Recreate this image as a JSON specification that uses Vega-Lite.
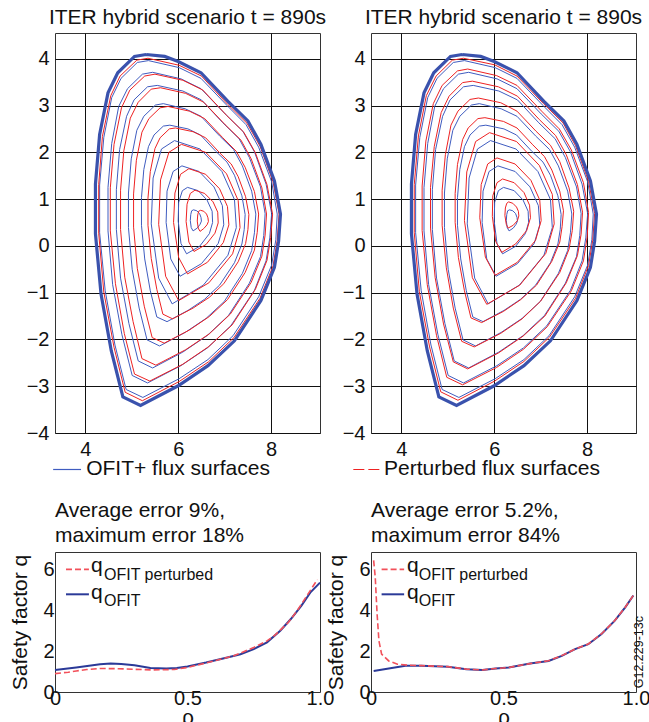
{
"$schema": "https://vega.github.io/schema/vega-lite/v6.json",
"background": "white",
"padding": {"left": 9, "top": 6, "right": 0, "bottom": 0},
"config": {
 "font": "Liberation Sans",
 "view": {"stroke": "#333", "strokeWidth": 1},
 "axis": {"labelFont": "Liberation Sans", "labelFontSize": 20, "labelColor": "#111", "titleFont": "Liberation Sans", "titleFontSize": 21, "titleFontWeight": "normal", "titleColor": "#111", "domain": false, "ticks": false, "gridColor": "#111", "gridOpacity": 1, "gridWidth": 1, "labelFlush": false, "labelOverlap": false, "labelBound": false},
 "title": {"font": "Liberation Sans", "fontSize": 21, "fontWeight": "normal", "color": "#111"},
 "text": {"font": "Liberation Sans", "color": "#111"}
},
"datasets": {
"edge": [
{"x":5.31,"y":4.09},{"x":5.71,"y":4.05},{"x":6.0,"y":3.94},{"x":6.49,"y":3.70},{"x":7.07,"y":3.09},{"x":7.5,"y":2.67},{"x":7.78,"y":2.17},{"x":8.07,"y":1.39},{"x":8.2,"y":0.68},{"x":8.16,"y":0.1},{"x":8.07,"y":-0.46},{"x":7.78,"y":-1.17},{"x":7.21,"y":-2.03},{"x":6.64,"y":-2.56},{"x":6.0,"y":-2.99},{"x":5.19,"y":-3.41},{"x":4.81,"y":-3.23},{"x":4.56,"y":-2.24},{"x":4.34,"y":-1.03},{"x":4.22,"y":0.26},{"x":4.22,"y":1.32},{"x":4.31,"y":2.38},{"x":4.49,"y":3.27},{"x":4.70,"y":3.70},{"x":5.06,"y":4.05},{"x":5.31,"y":4.09}
],
"blue": [
{"k":1,"x":5.36,"y":3.96},{"k":1,"x":6.02,"y":3.81},{"k":1,"x":6.49,"y":3.58},{"k":1,"x":7.05,"y":3.00},{"k":1,"x":7.46,"y":2.59},{"k":1,"x":7.73,"y":2.11},{"k":1,"x":8.01,"y":1.37},{"k":1,"x":8.13,"y":0.68},{"k":1,"x":8.10,"y":0.13},{"k":1,"x":8.01,"y":-0.41},{"k":1,"x":7.73,"y":-1.09},{"k":1,"x":7.18,"y":-1.92},{"k":1,"x":6.64,"y":-2.43},{"k":1,"x":6.02,"y":-2.84},{"k":1,"x":5.24,"y":-3.24},{"k":1,"x":4.88,"y":-3.07},{"k":1,"x":4.64,"y":-2.12},{"k":1,"x":4.43,"y":-0.96},{"k":1,"x":4.31,"y":0.28},{"k":1,"x":4.31,"y":1.30},{"k":1,"x":4.40,"y":2.32},{"k":1,"x":4.57,"y":3.17},{"k":1,"x":4.77,"y":3.58},{"k":1,"x":5.12,"y":3.92},{"k":1,"x":5.36,"y":3.96},
{"k":2,"x":5.45,"y":3.71},{"k":2,"x":6.06,"y":3.57},{"k":2,"x":6.49,"y":3.36},{"k":2,"x":7.01,"y":2.82},{"k":2,"x":7.39,"y":2.45},{"k":2,"x":7.64,"y":2.01},{"k":2,"x":7.89,"y":1.32},{"k":2,"x":8.01,"y":0.69},{"k":2,"x":7.97,"y":0.17},{"k":2,"x":7.89,"y":-0.32},{"k":2,"x":7.64,"y":-0.95},{"k":2,"x":7.13,"y":-1.71},{"k":2,"x":6.63,"y":-2.18},{"k":2,"x":6.06,"y":-2.56},{"k":2,"x":5.34,"y":-2.93},{"k":2,"x":5.01,"y":-2.77},{"k":2,"x":4.79,"y":-1.90},{"k":2,"x":4.59,"y":-0.83},{"k":2,"x":4.49,"y":0.32},{"k":2,"x":4.49,"y":1.25},{"k":2,"x":4.57,"y":2.19},{"k":2,"x":4.72,"y":2.98},{"k":2,"x":4.91,"y":3.36},{"k":2,"x":5.23,"y":3.67},{"k":2,"x":5.45,"y":3.71},
{"k":3,"x":5.55,"y":3.43},{"k":3,"x":6.10,"y":3.31},{"k":3,"x":6.50,"y":3.12},{"k":3,"x":6.96,"y":2.63},{"k":3,"x":7.31,"y":2.29},{"k":3,"x":7.53,"y":1.89},{"k":3,"x":7.77,"y":1.26},{"k":3,"x":7.87,"y":0.69},{"k":3,"x":7.84,"y":0.22},{"k":3,"x":7.77,"y":-0.23},{"k":3,"x":7.53,"y":-0.80},{"k":3,"x":7.08,"y":-1.49},{"k":3,"x":6.62,"y":-1.92},{"k":3,"x":6.10,"y":-2.27},{"k":3,"x":5.45,"y":-2.61},{"k":3,"x":5.14,"y":-2.46},{"k":3,"x":4.94,"y":-1.66},{"k":3,"x":4.76,"y":-0.69},{"k":3,"x":4.67,"y":0.35},{"k":3,"x":4.67,"y":1.20},{"k":3,"x":4.74,"y":2.06},{"k":3,"x":4.89,"y":2.77},{"k":3,"x":5.05,"y":3.12},{"k":3,"x":5.34,"y":3.40},{"k":3,"x":5.55,"y":3.43},
{"k":4,"x":5.68,"y":3.04},{"k":4,"x":6.15,"y":2.93},{"k":4,"x":6.49,"y":2.77},{"k":4,"x":6.89,"y":2.35},{"k":4,"x":7.19,"y":2.06},{"k":4,"x":7.38,"y":1.71},{"k":4,"x":7.58,"y":1.17},{"k":4,"x":7.67,"y":0.68},{"k":4,"x":7.64,"y":0.28},{"k":4,"x":7.58,"y":-0.10},{"k":4,"x":7.38,"y":-0.59},{"k":4,"x":6.99,"y":-1.19},{"k":4,"x":6.60,"y":-1.55},{"k":4,"x":6.15,"y":-1.85},{"k":4,"x":5.60,"y":-2.14},{"k":4,"x":5.33,"y":-2.01},{"k":4,"x":5.16,"y":-1.33},{"k":4,"x":5.01,"y":-0.50},{"k":4,"x":4.93,"y":0.39},{"k":4,"x":4.93,"y":1.13},{"k":4,"x":4.99,"y":1.86},{"k":4,"x":5.11,"y":2.47},{"k":4,"x":5.26,"y":2.77},{"k":4,"x":5.51,"y":3.01},{"k":4,"x":5.68,"y":3.04},
{"k":5,"x":5.82,"y":2.58},{"k":5,"x":6.21,"y":2.50},{"k":5,"x":6.48,"y":2.37},{"k":5,"x":6.81,"y":2.02},{"k":5,"x":7.05,"y":1.79},{"k":5,"x":7.21,"y":1.51},{"k":5,"x":7.37,"y":1.07},{"k":5,"x":7.44,"y":0.67},{"k":5,"x":7.42,"y":0.35},{"k":5,"x":7.37,"y":0.04},{"k":5,"x":7.21,"y":-0.36},{"k":5,"x":6.89,"y":-0.84},{"k":5,"x":6.57,"y":-1.14},{"k":5,"x":6.21,"y":-1.38},{"k":5,"x":5.76,"y":-1.62},{"k":5,"x":5.54,"y":-1.52},{"k":5,"x":5.40,"y":-0.96},{"k":5,"x":5.28,"y":-0.28},{"k":5,"x":5.21,"y":0.44},{"k":5,"x":5.21,"y":1.03},{"k":5,"x":5.26,"y":1.63},{"k":5,"x":5.36,"y":2.12},{"k":5,"x":5.48,"y":2.37},{"k":5,"x":5.68,"y":2.56},{"k":5,"x":5.82,"y":2.58},
{"k":6,"x":5.92,"y":2.25},{"k":6,"x":6.47,"y":2.07},{"k":6,"x":6.94,"y":1.59},{"k":6,"x":7.21,"y":0.99},{"k":6,"x":7.25,"y":0.39},{"k":6,"x":7.07,"y":-0.20},{"k":6,"x":6.54,"y":-0.84},{"k":6,"x":5.87,"y":-1.24},{"k":6,"x":5.58,"y":-0.69},{"k":6,"x":5.42,"y":0.47},{"k":6,"x":5.46,"y":1.45},{"k":6,"x":5.64,"y":2.07},{"k":6,"x":5.92,"y":2.25},
{"k":7,"x":6.08,"y":1.71},{"k":7,"x":6.45,"y":1.59},{"k":7,"x":6.77,"y":1.26},{"k":7,"x":6.95,"y":0.86},{"k":7,"x":6.98,"y":0.45},{"k":7,"x":6.86,"y":0.05},{"k":7,"x":6.50,"y":-0.38},{"k":7,"x":6.04,"y":-0.65},{"k":7,"x":5.84,"y":-0.28},{"k":7,"x":5.74,"y":0.50},{"k":7,"x":5.76,"y":1.17},{"k":7,"x":5.89,"y":1.59},{"k":7,"x":6.08,"y":1.71},
{"k":8,"x":6.20,"y":1.25},{"k":8,"x":6.43,"y":1.18},{"k":8,"x":6.62,"y":0.98},{"k":8,"x":6.73,"y":0.74},{"k":8,"x":6.74,"y":0.50},{"k":8,"x":6.67,"y":0.26},{"k":8,"x":6.46,"y":-0.01},{"k":8,"x":6.18,"y":-0.17},{"k":8,"x":6.06,"y":0.05},{"k":8,"x":6.00,"y":0.53},{"k":8,"x":6.01,"y":0.93},{"k":8,"x":6.09,"y":1.18},{"k":8,"x":6.20,"y":1.25},
{"k":9,"x":6.33,"y":0.77},{"k":9,"x":6.40,"y":0.75},{"k":9,"x":6.46,"y":0.69},{"k":9,"x":6.49,"y":0.61},{"k":9,"x":6.50,"y":0.53},{"k":9,"x":6.47,"y":0.46},{"k":9,"x":6.41,"y":0.38},{"k":9,"x":6.32,"y":0.32},{"k":9,"x":6.28,"y":0.39},{"k":9,"x":6.26,"y":0.54},{"k":9,"x":6.27,"y":0.67},{"k":9,"x":6.29,"y":0.75},{"k":9,"x":6.33,"y":0.77}
],
"redL": [
{"k":1,"x":5.35,"y":4.01},{"k":1,"x":6.02,"y":3.86},{"k":1,"x":6.50,"y":3.63},{"k":1,"x":7.06,"y":3.03},{"k":1,"x":7.48,"y":2.62},{"k":1,"x":7.76,"y":2.13},{"k":1,"x":8.04,"y":1.37},{"k":1,"x":8.17,"y":0.68},{"k":1,"x":8.13,"y":0.12},{"k":1,"x":8.04,"y":-0.43},{"k":1,"x":7.76,"y":-1.12},{"k":1,"x":7.20,"y":-1.96},{"k":1,"x":6.65,"y":-2.48},{"k":1,"x":6.02,"y":-2.90},{"k":1,"x":5.23,"y":-3.31},{"k":1,"x":4.86,"y":-3.13},{"k":1,"x":4.62,"y":-2.17},{"k":1,"x":4.40,"y":-0.99},{"k":1,"x":4.29,"y":0.27},{"k":1,"x":4.29,"y":1.31},{"k":1,"x":4.37,"y":2.34},{"k":1,"x":4.55,"y":3.21},{"k":1,"x":4.75,"y":3.63},{"k":1,"x":5.11,"y":3.97},{"k":1,"x":5.35,"y":4.01},
{"k":2,"x":5.50,"y":3.67},{"k":2,"x":6.10,"y":3.54},{"k":2,"x":6.53,"y":3.33},{"k":2,"x":7.04,"y":2.79},{"k":2,"x":7.41,"y":2.43},{"k":2,"x":7.66,"y":1.99},{"k":2,"x":7.91,"y":1.31},{"k":2,"x":8.03,"y":0.68},{"k":2,"x":7.99,"y":0.18},{"k":2,"x":7.91,"y":-0.31},{"k":2,"x":7.66,"y":-0.93},{"k":2,"x":7.16,"y":-1.69},{"k":2,"x":6.66,"y":-2.15},{"k":2,"x":6.10,"y":-2.53},{"k":2,"x":5.39,"y":-2.89},{"k":2,"x":5.06,"y":-2.74},{"k":2,"x":4.84,"y":-1.87},{"k":2,"x":4.65,"y":-0.81},{"k":2,"x":4.54,"y":0.32},{"k":2,"x":4.54,"y":1.24},{"k":2,"x":4.62,"y":2.17},{"k":2,"x":4.78,"y":2.95},{"k":2,"x":4.96,"y":3.33},{"k":2,"x":5.28,"y":3.63},{"k":2,"x":5.50,"y":3.67},
{"k":3,"x":5.62,"y":3.38},{"k":3,"x":6.16,"y":3.26},{"k":3,"x":6.55,"y":3.07},{"k":3,"x":7.01,"y":2.59},{"k":3,"x":7.35,"y":2.26},{"k":3,"x":7.57,"y":1.86},{"k":3,"x":7.80,"y":1.24},{"k":3,"x":7.90,"y":0.68},{"k":3,"x":7.87,"y":0.23},{"k":3,"x":7.80,"y":-0.22},{"k":3,"x":7.57,"y":-0.78},{"k":3,"x":7.12,"y":-1.46},{"k":3,"x":6.67,"y":-1.88},{"k":3,"x":6.16,"y":-2.22},{"k":3,"x":5.52,"y":-2.55},{"k":3,"x":5.22,"y":-2.41},{"k":3,"x":5.03,"y":-1.62},{"k":3,"x":4.85,"y":-0.67},{"k":3,"x":4.76,"y":0.35},{"k":3,"x":4.76,"y":1.19},{"k":3,"x":4.83,"y":2.03},{"k":3,"x":4.97,"y":2.73},{"k":3,"x":5.14,"y":3.07},{"k":3,"x":5.42,"y":3.35},{"k":3,"x":5.62,"y":3.38},
{"k":4,"x":5.78,"y":2.98},{"k":4,"x":6.24,"y":2.88},{"k":4,"x":6.57,"y":2.72},{"k":4,"x":6.96,"y":2.31},{"k":4,"x":7.25,"y":2.02},{"k":4,"x":7.44,"y":1.68},{"k":4,"x":7.64,"y":1.16},{"k":4,"x":7.73,"y":0.68},{"k":4,"x":7.70,"y":0.29},{"k":4,"x":7.64,"y":-0.09},{"k":4,"x":7.44,"y":-0.57},{"k":4,"x":7.06,"y":-1.15},{"k":4,"x":6.67,"y":-1.51},{"k":4,"x":6.24,"y":-1.80},{"k":4,"x":5.70,"y":-2.08},{"k":4,"x":5.44,"y":-1.96},{"k":4,"x":5.27,"y":-1.29},{"k":4,"x":5.12,"y":-0.48},{"k":4,"x":5.04,"y":0.40},{"k":4,"x":5.04,"y":1.11},{"k":4,"x":5.10,"y":1.83},{"k":4,"x":5.22,"y":2.43},{"k":4,"x":5.37,"y":2.72},{"k":4,"x":5.61,"y":2.95},{"k":4,"x":5.78,"y":2.98},
{"k":5,"x":5.94,"y":2.52},{"k":5,"x":6.32,"y":2.44},{"k":5,"x":6.59,"y":2.31},{"k":5,"x":6.90,"y":1.98},{"k":5,"x":7.14,"y":1.75},{"k":5,"x":7.29,"y":1.48},{"k":5,"x":7.45,"y":1.05},{"k":5,"x":7.52,"y":0.67},{"k":5,"x":7.50,"y":0.35},{"k":5,"x":7.45,"y":0.05},{"k":5,"x":7.29,"y":-0.34},{"k":5,"x":6.98,"y":-0.81},{"k":5,"x":6.67,"y":-1.10},{"k":5,"x":6.32,"y":-1.33},{"k":5,"x":5.88,"y":-1.56},{"k":5,"x":5.67,"y":-1.46},{"k":5,"x":5.54,"y":-0.93},{"k":5,"x":5.42,"y":-0.27},{"k":5,"x":5.35,"y":0.44},{"k":5,"x":5.35,"y":1.02},{"k":5,"x":5.40,"y":1.59},{"k":5,"x":5.50,"y":2.08},{"k":5,"x":5.61,"y":2.31},{"k":5,"x":5.81,"y":2.50},{"k":5,"x":5.94,"y":2.52},
{"k":6,"x":6.07,"y":2.17},{"k":6,"x":6.59,"y":2.00},{"k":6,"x":7.04,"y":1.54},{"k":6,"x":7.29,"y":0.97},{"k":6,"x":7.33,"y":0.39},{"k":6,"x":7.17,"y":-0.17},{"k":6,"x":6.66,"y":-0.79},{"k":6,"x":6.01,"y":-1.17},{"k":6,"x":5.73,"y":-0.65},{"k":6,"x":5.58,"y":0.46},{"k":6,"x":5.62,"y":1.41},{"k":6,"x":5.80,"y":2.00},{"k":6,"x":6.07,"y":2.17},
{"k":7,"x":6.23,"y":1.65},{"k":7,"x":6.59,"y":1.53},{"k":7,"x":6.89,"y":1.22},{"k":7,"x":7.06,"y":0.84},{"k":7,"x":7.09,"y":0.45},{"k":7,"x":6.97,"y":0.07},{"k":7,"x":6.63,"y":-0.35},{"k":7,"x":6.20,"y":-0.60},{"k":7,"x":6.01,"y":-0.25},{"k":7,"x":5.90,"y":0.50},{"k":7,"x":5.93,"y":1.13},{"k":7,"x":6.05,"y":1.53},{"k":7,"x":6.23,"y":1.65},
{"k":8,"x":6.36,"y":1.19},{"k":8,"x":6.57,"y":1.12},{"k":8,"x":6.75,"y":0.94},{"k":8,"x":6.85,"y":0.72},{"k":8,"x":6.86,"y":0.49},{"k":8,"x":6.79,"y":0.27},{"k":8,"x":6.60,"y":0.03},{"k":8,"x":6.34,"y":-0.12},{"k":8,"x":6.23,"y":0.08},{"k":8,"x":6.17,"y":0.52},{"k":8,"x":6.19,"y":0.89},{"k":8,"x":6.26,"y":1.12},{"k":8,"x":6.36,"y":1.19},
{"k":9,"x":6.48,"y":0.76},{"k":9,"x":6.55,"y":0.74},{"k":9,"x":6.61,"y":0.68},{"k":9,"x":6.64,"y":0.60},{"k":9,"x":6.65,"y":0.52},{"k":9,"x":6.62,"y":0.45},{"k":9,"x":6.55,"y":0.37},{"k":9,"x":6.47,"y":0.31},{"k":9,"x":6.43,"y":0.38},{"k":9,"x":6.41,"y":0.53},{"k":9,"x":6.42,"y":0.66},{"k":9,"x":6.44,"y":0.74},{"k":9,"x":6.48,"y":0.76}
],
"redR": [
{"k":1,"x":5.34,"y":4.01},{"k":1,"x":6.01,"y":3.87},{"k":1,"x":6.49,"y":3.63},{"k":1,"x":7.06,"y":3.04},{"k":1,"x":7.48,"y":2.63},{"k":1,"x":7.75,"y":2.14},{"k":1,"x":8.03,"y":1.38},{"k":1,"x":8.16,"y":0.69},{"k":1,"x":8.12,"y":0.12},{"k":1,"x":8.03,"y":-0.42},{"k":1,"x":7.75,"y":-1.12},{"k":1,"x":7.19,"y":-1.95},{"k":1,"x":6.64,"y":-2.47},{"k":1,"x":6.01,"y":-2.89},{"k":1,"x":5.22,"y":-3.30},{"k":1,"x":4.85,"y":-3.12},{"k":1,"x":4.61,"y":-2.16},{"k":1,"x":4.39,"y":-0.98},{"k":1,"x":4.28,"y":0.28},{"k":1,"x":4.28,"y":1.31},{"k":1,"x":4.37,"y":2.35},{"k":1,"x":4.54,"y":3.21},{"k":1,"x":4.75,"y":3.63},{"k":1,"x":5.10,"y":3.97},{"k":1,"x":5.34,"y":4.01},
{"k":2,"x":5.43,"y":3.78},{"k":2,"x":6.05,"y":3.64},{"k":2,"x":6.49,"y":3.43},{"k":2,"x":7.02,"y":2.88},{"k":2,"x":7.40,"y":2.50},{"k":2,"x":7.66,"y":2.05},{"k":2,"x":7.92,"y":1.35},{"k":2,"x":8.03,"y":0.71},{"k":2,"x":8.00,"y":0.19},{"k":2,"x":7.92,"y":-0.32},{"k":2,"x":7.66,"y":-0.96},{"k":2,"x":7.14,"y":-1.73},{"k":2,"x":6.63,"y":-2.21},{"k":2,"x":6.05,"y":-2.60},{"k":2,"x":5.32,"y":-2.97},{"k":2,"x":4.98,"y":-2.81},{"k":2,"x":4.76,"y":-1.92},{"k":2,"x":4.56,"y":-0.83},{"k":2,"x":4.45,"y":0.33},{"k":2,"x":4.45,"y":1.28},{"k":2,"x":4.53,"y":2.24},{"k":2,"x":4.69,"y":3.04},{"k":2,"x":4.88,"y":3.43},{"k":2,"x":5.21,"y":3.74},{"k":2,"x":5.43,"y":3.78},
{"k":3,"x":5.53,"y":3.52},{"k":3,"x":6.09,"y":3.40},{"k":3,"x":6.50,"y":3.20},{"k":3,"x":6.97,"y":2.70},{"k":3,"x":7.32,"y":2.36},{"k":3,"x":7.55,"y":1.95},{"k":3,"x":7.79,"y":1.31},{"k":3,"x":7.90,"y":0.72},{"k":3,"x":7.87,"y":0.25},{"k":3,"x":7.79,"y":-0.21},{"k":3,"x":7.55,"y":-0.79},{"k":3,"x":7.09,"y":-1.50},{"k":3,"x":6.62,"y":-1.93},{"k":3,"x":6.09,"y":-2.29},{"k":3,"x":5.43,"y":-2.63},{"k":3,"x":5.12,"y":-2.48},{"k":3,"x":4.91,"y":-1.67},{"k":3,"x":4.73,"y":-0.68},{"k":3,"x":4.63,"y":0.38},{"k":3,"x":4.63,"y":1.25},{"k":3,"x":4.71,"y":2.12},{"k":3,"x":4.86,"y":2.85},{"k":3,"x":5.03,"y":3.20},{"k":3,"x":5.32,"y":3.49},{"k":3,"x":5.53,"y":3.52},
{"k":4,"x":5.66,"y":3.16},{"k":4,"x":6.14,"y":3.06},{"k":4,"x":6.49,"y":2.88},{"k":4,"x":6.90,"y":2.45},{"k":4,"x":7.21,"y":2.15},{"k":4,"x":7.41,"y":1.80},{"k":4,"x":7.61,"y":1.24},{"k":4,"x":7.71,"y":0.74},{"k":4,"x":7.68,"y":0.33},{"k":4,"x":7.61,"y":-0.07},{"k":4,"x":7.41,"y":-0.57},{"k":4,"x":7.00,"y":-1.18},{"k":4,"x":6.60,"y":-1.56},{"k":4,"x":6.14,"y":-1.87},{"k":4,"x":5.57,"y":-2.16},{"k":4,"x":5.30,"y":-2.04},{"k":4,"x":5.12,"y":-1.33},{"k":4,"x":4.97,"y":-0.47},{"k":4,"x":4.88,"y":0.44},{"k":4,"x":4.88,"y":1.19},{"k":4,"x":4.95,"y":1.95},{"k":4,"x":5.07,"y":2.58},{"k":4,"x":5.22,"y":2.88},{"k":4,"x":5.48,"y":3.13},{"k":4,"x":5.66,"y":3.16},
{"k":5,"x":5.80,"y":2.74},{"k":5,"x":6.20,"y":2.66},{"k":5,"x":6.49,"y":2.52},{"k":5,"x":6.83,"y":2.16},{"k":5,"x":7.08,"y":1.91},{"k":5,"x":7.24,"y":1.62},{"k":5,"x":7.41,"y":1.17},{"k":5,"x":7.49,"y":0.75},{"k":5,"x":7.46,"y":0.41},{"k":5,"x":7.41,"y":0.08},{"k":5,"x":7.24,"y":-0.33},{"k":5,"x":6.91,"y":-0.84},{"k":5,"x":6.57,"y":-1.15},{"k":5,"x":6.20,"y":-1.40},{"k":5,"x":5.73,"y":-1.64},{"k":5,"x":5.50,"y":-1.54},{"k":5,"x":5.36,"y":-0.96},{"k":5,"x":5.23,"y":-0.25},{"k":5,"x":5.16,"y":0.50},{"k":5,"x":5.16,"y":1.12},{"k":5,"x":5.21,"y":1.74},{"k":5,"x":5.32,"y":2.27},{"k":5,"x":5.44,"y":2.52},{"k":5,"x":5.65,"y":2.72},{"k":5,"x":5.80,"y":2.74},
{"k":6,"x":5.90,"y":2.42},{"k":6,"x":6.48,"y":2.23},{"k":6,"x":6.97,"y":1.72},{"k":6,"x":7.25,"y":1.10},{"k":6,"x":7.29,"y":0.47},{"k":6,"x":7.11,"y":-0.16},{"k":6,"x":6.55,"y":-0.84},{"k":6,"x":5.84,"y":-1.25},{"k":6,"x":5.53,"y":-0.68},{"k":6,"x":5.36,"y":0.54},{"k":6,"x":5.41,"y":1.58},{"k":6,"x":5.60,"y":2.23},{"k":6,"x":5.90,"y":2.42},
{"k":7,"x":6.06,"y":1.88},{"k":7,"x":6.45,"y":1.75},{"k":7,"x":6.79,"y":1.40},{"k":7,"x":6.98,"y":0.98},{"k":7,"x":7.01,"y":0.54},{"k":7,"x":6.89,"y":0.12},{"k":7,"x":6.50,"y":-0.35},{"k":7,"x":6.02,"y":-0.63},{"k":7,"x":5.81,"y":-0.24},{"k":7,"x":5.69,"y":0.60},{"k":7,"x":5.72,"y":1.31},{"k":7,"x":5.86,"y":1.75},{"k":7,"x":6.06,"y":1.88},
{"k":8,"x":6.18,"y":1.43},{"k":8,"x":6.43,"y":1.35},{"k":8,"x":6.64,"y":1.14},{"k":8,"x":6.76,"y":0.87},{"k":8,"x":6.78,"y":0.60},{"k":8,"x":6.70,"y":0.33},{"k":8,"x":6.46,"y":0.04},{"k":8,"x":6.16,"y":-0.14},{"k":8,"x":6.03,"y":0.10},{"k":8,"x":5.96,"y":0.63},{"k":8,"x":5.97,"y":1.07},{"k":8,"x":6.06,"y":1.35},{"k":8,"x":6.18,"y":1.43},
{"k":9,"x":6.31,"y":0.94},{"k":9,"x":6.40,"y":0.91},{"k":9,"x":6.48,"y":0.83},{"k":9,"x":6.52,"y":0.74},{"k":9,"x":6.53,"y":0.64},{"k":9,"x":6.50,"y":0.54},{"k":9,"x":6.41,"y":0.44},{"k":9,"x":6.30,"y":0.38},{"k":9,"x":6.26,"y":0.46},{"k":9,"x":6.23,"y":0.65},{"k":9,"x":6.24,"y":0.81},{"k":9,"x":6.27,"y":0.91},{"k":9,"x":6.31,"y":0.94}
],
"qLb": [{"r":0.0,"q":1.08},{"r":0.08,"q":1.2},{"r":0.17,"q":1.36},{"r":0.21,"q":1.39},{"r":0.25,"q":1.37},{"r":0.30,"q":1.31},{"r":0.36,"q":1.17},{"r":0.42,"q":1.15},{"r":0.46,"q":1.17},{"r":0.50,"q":1.25},{"r":0.57,"q":1.44},{"r":0.65,"q":1.69},{"r":0.70,"q":1.85},{"r":0.75,"q":2.1},{"r":0.80,"q":2.43},{"r":0.85,"q":3.0},{"r":0.89,"q":3.57},{"r":0.93,"q":4.23},{"r":0.965,"q":4.89},{"r":1.0,"q":5.35}],
"qLr": [{"r":0.0,"q":0.9},{"r":0.05,"q":0.97},{"r":0.08,"q":1.03},{"r":0.12,"q":1.1},{"r":0.17,"q":1.15},{"r":0.24,"q":1.14},{"r":0.30,"q":1.11},{"r":0.37,"q":1.08},{"r":0.45,"q":1.1},{"r":0.50,"q":1.2},{"r":0.57,"q":1.42},{"r":0.675,"q":1.77},{"r":0.75,"q":2.18},{"r":0.80,"q":2.5},{"r":0.83,"q":2.78},{"r":0.88,"q":3.4},{"r":0.915,"q":4.0},{"r":0.95,"q":4.7},{"r":0.99,"q":5.5}],
"qRb": [{"r":0.01,"q":1.03},{"r":0.067,"q":1.15},{"r":0.13,"q":1.28},{"r":0.19,"q":1.28},{"r":0.29,"q":1.23},{"r":0.36,"q":1.11},{"r":0.42,"q":1.08},{"r":0.47,"q":1.15},{"r":0.52,"q":1.2},{"r":0.60,"q":1.39},{"r":0.67,"q":1.52},{"r":0.72,"q":1.77},{"r":0.77,"q":2.1},{"r":0.82,"q":2.34},{"r":0.87,"q":2.84},{"r":0.92,"q":3.49},{"r":0.96,"q":4.15},{"r":0.99,"q":4.72}],
"qRr": [{"r":0.01,"q":6.44},{"r":0.016,"q":5.62},{"r":0.023,"q":3.82},{"r":0.03,"q":2.5},{"r":0.04,"q":1.85},{"r":0.067,"q":1.52},{"r":0.10,"q":1.36},{"r":0.14,"q":1.31},{"r":0.19,"q":1.29},{"r":0.29,"q":1.24},{"r":0.36,"q":1.12},{"r":0.42,"q":1.08},{"r":0.47,"q":1.15},{"r":0.52,"q":1.2},{"r":0.60,"q":1.39},{"r":0.67,"q":1.53},{"r":0.72,"q":1.78},{"r":0.77,"q":2.1},{"r":0.82,"q":2.35},{"r":0.87,"q":2.85},{"r":0.92,"q":3.5},{"r":0.96,"q":4.16},{"r":0.99,"q":4.73}]
},
"columns": 2,
"bounds": "flush",
"spacing": {"row": 119, "column": 51},
"concat": [
 {"width": 265, "height": 400,
  "title": {"text": "ITER hybrid scenario t = 890s", "frame": "group", "offset": 5},
  "layer": [
   {"data": {"name": "blue"}, "mark": {"type": "line", "color": "#3f5cc0", "strokeWidth": 1},
    "encoding": {"x": {"field": "x", "type": "quantitative", "scale": {"domain": [3.35, 9.05], "nice": false, "zero": false}, "axis": {"values": [4, 6, 8], "title": null, "labelPadding": 6}},
     "y": {"field": "y", "type": "quantitative", "scale": {"domain": [-4, 4.55], "nice": false, "zero": false}, "axis": {"values": [-4, -3, -2, -1, 0, 1, 2, 3, 4], "title": null, "labelPadding": 6}},
     "detail": {"field": "k"}, "order": {"value": null}}},
   {"data": {"name": "redL"}, "mark": {"type": "line", "color": "#ee2222", "strokeWidth": 1},
    "encoding": {"x": {"field": "x", "type": "quantitative"}, "y": {"field": "y", "type": "quantitative"}, "detail": {"field": "k"}, "order": {"value": null}}},
   {"data": {"name": "edge"}, "mark": {"type": "line", "color": "#3a52ad", "strokeWidth": 3.2},
    "encoding": {"x": {"field": "x", "type": "quantitative"}, "y": {"field": "y", "type": "quantitative"}, "order": {"value": null}}},
   {"data": {"values": [{}]}, "mark": {"type": "rule", "color": "#3f5cc0", "strokeWidth": 1.2},
    "encoding": {"x": {"datum": 3.31}, "x2": {"datum": 3.91}, "y": {"datum": -4.78}}},
   {"data": {"values": [{}]}, "mark": {"type": "text", "align": "left", "baseline": "middle", "fontSize": 21},
    "encoding": {"x": {"datum": 4.02}, "y": {"datum": -4.78}, "text": {"value": "OFIT+ flux surfaces"}}}
  ]},
 {"width": 265, "height": 400,
  "title": {"text": "ITER hybrid scenario t = 890s", "frame": "group", "offset": 5},
  "layer": [
   {"data": {"name": "blue"}, "mark": {"type": "line", "color": "#3f5cc0", "strokeWidth": 1},
    "encoding": {"x": {"field": "x", "type": "quantitative", "scale": {"domain": [3.35, 9.05], "nice": false, "zero": false}, "axis": {"values": [4, 6, 8], "title": null, "labelPadding": 6}},
     "y": {"field": "y", "type": "quantitative", "scale": {"domain": [-4, 4.55], "nice": false, "zero": false}, "axis": {"values": [-4, -3, -2, -1, 0, 1, 2, 3, 4], "title": null, "labelPadding": 6}},
     "detail": {"field": "k"}, "order": {"value": null}}},
   {"data": {"name": "redR"}, "mark": {"type": "line", "color": "#ee2222", "strokeWidth": 1},
    "encoding": {"x": {"field": "x", "type": "quantitative"}, "y": {"field": "y", "type": "quantitative"}, "detail": {"field": "k"}, "order": {"value": null}}},
   {"data": {"name": "edge"}, "mark": {"type": "line", "color": "#3a52ad", "strokeWidth": 3.2},
    "encoding": {"x": {"field": "x", "type": "quantitative"}, "y": {"field": "y", "type": "quantitative"}, "order": {"value": null}}},
   {"data": {"values": [{}]}, "mark": {"type": "rule", "color": "#ee2222", "strokeWidth": 1.2, "strokeDash": [11, 4]},
    "encoding": {"x": {"datum": 2.97}, "x2": {"datum": 3.53}, "y": {"datum": -4.78}}},
   {"data": {"values": [{}]}, "mark": {"type": "text", "align": "left", "baseline": "middle", "fontSize": 21},
    "encoding": {"x": {"datum": 3.63}, "y": {"datum": -4.78}, "text": {"value": "Perturbed flux surfaces"}}}
  ]},
 {"width": 265, "height": 140,
  "title": {"text": ["Average error 9%,", "maximum error 18%"], "anchor": "start", "frame": "group", "offset": 6, "lineHeight": 25},
  "layer": [
   {"data": {"values": [{}]}, "mark": {"type": "rect", "color": "white"},
    "encoding": {"x": {"datum": 0.004, "type": "quantitative", "scale": {"domain": [0, 1], "nice": false, "zero": false}, "axis": {"values": [0, 0.5, 1], "labelExpr": "datum.value == 0 ? '0' : format(datum.value, '.1f')", "title": "ρ", "labelPadding": -4, "titlePadding": -2}},
     "x2": {"datum": 0.615},
     "y": {"datum": 4.15, "type": "quantitative", "scale": {"domain": [0, 6.85], "nice": false, "zero": false}, "axis": {"values": [0, 2, 4, 6], "title": "Safety factor q", "labelPadding": 1, "titlePadding": 12}},
     "y2": {"datum": 6.8}}},
   {"data": {"name": "qLb"}, "mark": {"type": "line", "color": "#2b3a98", "strokeWidth": 2},
    "encoding": {"x": {"field": "r", "type": "quantitative"}, "y": {"field": "q", "type": "quantitative"}}},
   {"data": {"name": "qLr"}, "mark": {"type": "line", "color": "#f2505a", "strokeWidth": 1.6, "strokeDash": [6, 3]},
    "encoding": {"x": {"field": "r", "type": "quantitative"}, "y": {"field": "q", "type": "quantitative"}}},
   {"data": {"values": [{}]}, "mark": {"type": "rule", "color": "#f2505a", "strokeWidth": 1.6, "strokeDash": [6, 3]},
    "encoding": {"x": {"datum": 0.0415}, "x2": {"datum": 0.128}, "y": {"datum": 6.0}}},
   {"data": {"values": [{}]}, "mark": {"type": "rule", "color": "#2b3a98", "strokeWidth": 2},
    "encoding": {"x": {"datum": 0.0415}, "x2": {"datum": 0.128}, "y": {"datum": 4.78}}},
   {"data": {"values": [{}]}, "mark": {"type": "text", "align": "left", "baseline": "alphabetic", "fontSize": 21},
    "encoding": {"x": {"datum": 0.136}, "y": {"datum": 5.85}, "text": {"value": "q"}}},
   {"data": {"values": [{}]}, "mark": {"type": "text", "align": "left", "baseline": "alphabetic", "fontSize": 16},
    "encoding": {"x": {"datum": 0.185}, "y": {"datum": 5.46}, "text": {"value": "OFIT perturbed"}}},
   {"data": {"values": [{}]}, "mark": {"type": "text", "align": "left", "baseline": "alphabetic", "fontSize": 21},
    "encoding": {"x": {"datum": 0.136}, "y": {"datum": 4.55}, "text": {"value": "q"}}},
   {"data": {"values": [{}]}, "mark": {"type": "text", "align": "left", "baseline": "alphabetic", "fontSize": 16},
    "encoding": {"x": {"datum": 0.185}, "y": {"datum": 4.2}, "text": {"value": "OFIT"}}}
  ]},
 {"width": 265, "height": 140,
  "title": {"text": ["Average error 5.2%,", "maximum error 84%"], "anchor": "start", "frame": "group", "offset": 6, "lineHeight": 25},
  "layer": [
   {"data": {"values": [{}]}, "mark": {"type": "rect", "color": "white"},
    "encoding": {"x": {"datum": 0.035, "type": "quantitative", "scale": {"domain": [0, 1], "nice": false, "zero": false}, "axis": {"values": [0, 0.5, 1], "labelExpr": "datum.value == 0 ? '0' : format(datum.value, '.1f')", "title": "ρ", "labelPadding": -4, "titlePadding": -2}},
     "x2": {"datum": 0.615},
     "y": {"datum": 4.15, "type": "quantitative", "scale": {"domain": [0, 6.85], "nice": false, "zero": false}, "axis": {"values": [0, 2, 4, 6], "title": "Safety factor q", "labelPadding": 1, "titlePadding": 12}},
     "y2": {"datum": 6.8}}},
   {"data": {"name": "qRb"}, "mark": {"type": "line", "color": "#2b3a98", "strokeWidth": 2},
    "encoding": {"x": {"field": "r", "type": "quantitative"}, "y": {"field": "q", "type": "quantitative"}}},
   {"data": {"name": "qRr"}, "mark": {"type": "line", "color": "#f2505a", "strokeWidth": 1.6, "strokeDash": [6, 3]},
    "encoding": {"x": {"field": "r", "type": "quantitative"}, "y": {"field": "q", "type": "quantitative"}}},
   {"data": {"values": [{}]}, "mark": {"type": "rule", "color": "#f2505a", "strokeWidth": 1.6, "strokeDash": [6, 3]},
    "encoding": {"x": {"datum": 0.04}, "x2": {"datum": 0.125}, "y": {"datum": 6.0}}},
   {"data": {"values": [{}]}, "mark": {"type": "rule", "color": "#2b3a98", "strokeWidth": 2},
    "encoding": {"x": {"datum": 0.04}, "x2": {"datum": 0.125}, "y": {"datum": 4.78}}},
   {"data": {"values": [{}]}, "mark": {"type": "text", "align": "left", "baseline": "alphabetic", "fontSize": 21},
    "encoding": {"x": {"datum": 0.136}, "y": {"datum": 5.85}, "text": {"value": "q"}}},
   {"data": {"values": [{}]}, "mark": {"type": "text", "align": "left", "baseline": "alphabetic", "fontSize": 16},
    "encoding": {"x": {"datum": 0.18}, "y": {"datum": 5.46}, "text": {"value": "OFIT perturbed"}}},
   {"data": {"values": [{}]}, "mark": {"type": "text", "align": "left", "baseline": "alphabetic", "fontSize": 21},
    "encoding": {"x": {"datum": 0.136}, "y": {"datum": 4.55}, "text": {"value": "q"}}},
   {"data": {"values": [{}]}, "mark": {"type": "text", "align": "left", "baseline": "alphabetic", "fontSize": 16},
    "encoding": {"x": {"datum": 0.18}, "y": {"datum": 4.2}, "text": {"value": "OFIT"}}},
   {"data": {"values": [{}]}, "mark": {"type": "text", "align": "center", "baseline": "middle", "fontSize": 12.5, "angle": 270},
    "encoding": {"x": {"datum": 1.011}, "y": {"datum": 1.95}, "text": {"value": "G12.229-13c"}}}
  ]}
]
}
